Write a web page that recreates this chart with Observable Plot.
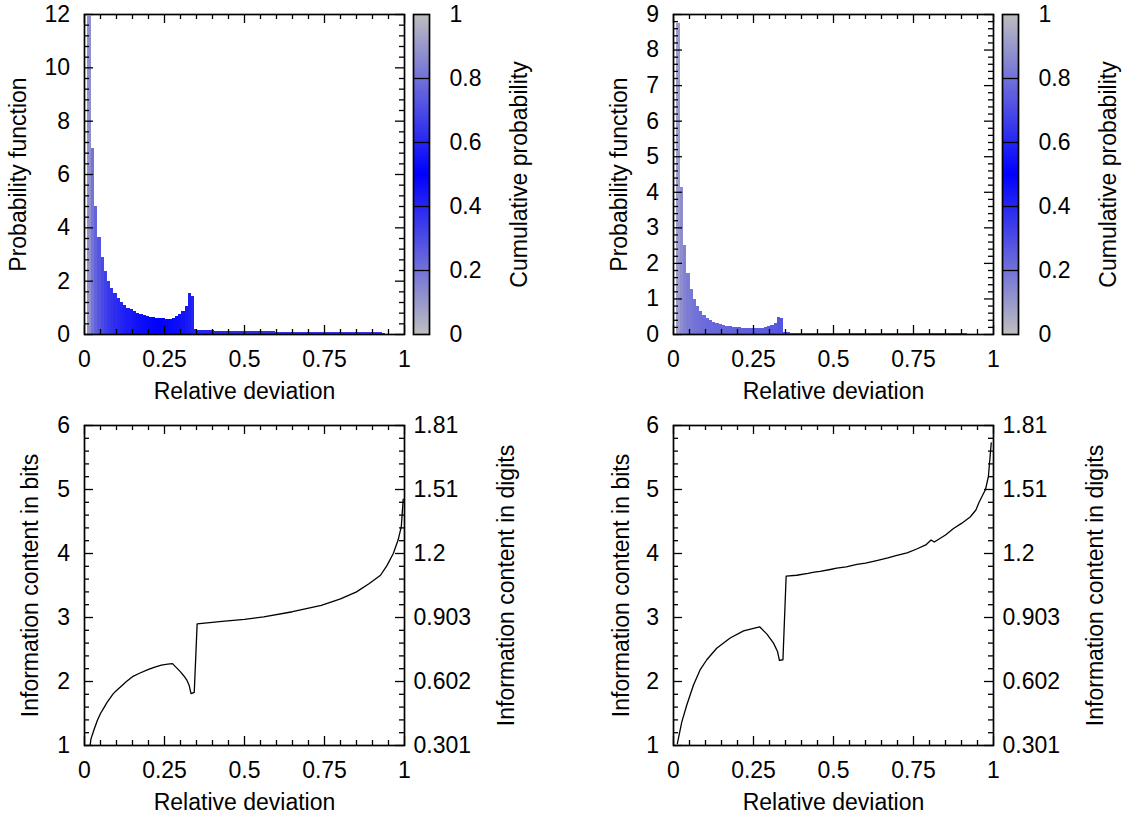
<!DOCTYPE html>
<html>
<head>
<meta charset="utf-8">
<script src="https://cdn.jsdelivr.net/npm/d3@7"></script>
<script src="https://cdn.jsdelivr.net/npm/@observablehq/plot@0.6"></script>
<style>
  html, body { margin: 0; padding: 0; background: #fff; }
  #root { position: relative; width: 1127px; height: 818px; overflow: hidden; font-family: "Liberation Sans", Arial, sans-serif; }
  #root svg { position: absolute; }
</style>
</head>
<body>
<div id="root"></div>
<script>
// ---------------- DATA ----------------
// x axis (relative deviation)
const xMajor = [0, 0.25, 0.5, 0.75, 1];
const xMajorLabels = ["0", "0.25", "0.5", "0.75", "1"];
const xLabel = "Relative deviation";

// histogram bins: the first bin spans [binFirstEdge, binStart], the others have width binWidth
const binFirstEdge = 0.008;
const binStart = 0.0213;
const binWidth = 0.0101;

// top-left histogram: probability function per bin
const histLeftValues = [
  11.94, 6.98, 4.81, 3.63, 2.88, 2.38, 2.0, 1.71, 1.53, 1.35,
  1.21, 1.09, 0.99, 0.93, 0.85, 0.80, 0.75, 0.71, 0.68, 0.65,
  0.63, 0.61, 0.60, 0.59, 0.58, 0.56, 0.60, 0.68, 0.75, 0.86,
  1.04, 1.54, 1.44,
  0.19, 0.16, 0.15, 0.145, 0.14, 0.135, 0.13, 0.13, 0.125,
  0.125, 0.12, 0.12, 0.115, 0.115, 0.11, 0.11, 0.11, 0.105,
  0.105, 0.10, 0.10, 0.10, 0.095, 0.095, 0.095, 0.09, 0.09,
  0.09, 0.09, 0.085, 0.085, 0.085, 0.085, 0.08, 0.08, 0.08,
  0.08, 0.08, 0.075, 0.075, 0.075, 0.075, 0.075, 0.07, 0.07,
  0.07, 0.07, 0.07, 0.07, 0.065, 0.065, 0.065, 0.065, 0.065,
  0.06, 0.06, 0.06, 0.06, 0.055
];

// top-right histogram
const histRightValues = [
  8.74, 4.13, 2.49, 1.715, 1.265, 0.984, 0.778, 0.656, 0.544, 0.459,
  0.394, 0.337, 0.30, 0.272, 0.253, 0.234, 0.216, 0.206, 0.197, 0.187,
  0.178, 0.178, 0.169, 0.169, 0.169, 0.159, 0.178, 0.206, 0.234, 0.253,
  0.309, 0.487, 0.459,
  0.05, 0.045, 0.042, 0.04, 0.038, 0.037, 0.036, 0.035, 0.035,
  0.034, 0.033, 0.032, 0.032, 0.031, 0.031, 0.03, 0.03, 0.03,
  0.029, 0.028, 0.028, 0.028, 0.027, 0.027, 0.026, 0.026, 0.026,
  0.025, 0.025, 0.024, 0.024, 0.024, 0.023, 0.023, 0.023, 0.022,
  0.022, 0.021, 0.021, 0.021, 0.02, 0.02, 0.02, 0.02, 0.019,
  0.019, 0.018, 0.018, 0.018, 0.017, 0.017, 0.017, 0.016, 0.016,
  0.015, 0.015, 0.015, 0.014, 0.014
];

const histLeftYTicks = [0, 2, 4, 6, 8, 10, 12];
const histRightYTicks = [0, 1, 2, 3, 4, 5, 6, 7, 8, 9];
const histYLabel = "Probability function";

// colorbar
const cbTicks = [0, 0.2, 0.4, 0.6, 0.8, 1];
const cbTickLabels = ["0", "0.2", "0.4", "0.6", "0.8", "1"];
const cbLabel = "Cumulative probability";
const paletteColors = ["#bebebe", "#0000ff", "#bebebe"];

// bottom-left information content curve (bits)
const infoLeftX = [0.01, 0.02, 0.03, 0.04, 0.05, 0.06, 0.07, 0.08, 0.09, 0.1,
  0.12, 0.13, 0.15, 0.17, 0.2, 0.22, 0.24, 0.26, 0.275, 0.3,
  0.31, 0.32, 0.327, 0.333, 0.343, 0.352, 0.43, 0.5, 0.56, 0.65,
  0.74, 0.8, 0.85, 0.89, 0.925, 0.945, 0.965, 0.98, 0.99, 0.996];
const infoLeftY = [0.7, 1.1, 1.25, 1.39, 1.5, 1.585, 1.67, 1.74, 1.81, 1.86,
  1.95, 1.995, 2.075, 2.125, 2.19, 2.225, 2.255, 2.27, 2.28, 2.15,
  2.09, 2.02, 1.94, 1.81, 1.83, 2.9, 2.94, 2.97, 3.01, 3.09,
  3.19, 3.29, 3.40, 3.53, 3.66, 3.81, 4.0, 4.21, 4.42, 4.85];

// bottom-right information content curve (bits)
const infoRightX = [0.012, 0.026, 0.042, 0.0625, 0.083, 0.104, 0.135, 0.177, 0.219, 0.269,
  0.292, 0.3125, 0.325, 0.331, 0.342, 0.352, 0.385, 0.42, 0.44, 0.458,
  0.49, 0.51, 0.54, 0.573, 0.6, 0.635, 0.67, 0.698, 0.73, 0.76,
  0.79, 0.805, 0.815, 0.85, 0.875, 0.9, 0.927, 0.945, 0.955, 0.964,
  0.975, 0.984, 0.993];
const infoRightY = [1.03, 1.37, 1.64, 1.945, 2.18, 2.34, 2.52, 2.68, 2.79, 2.855,
  2.74, 2.60, 2.47, 2.33, 2.34, 3.645, 3.66, 3.69, 3.71, 3.72,
  3.75, 3.77, 3.79, 3.83, 3.85, 3.89, 3.93, 3.97, 4.01, 4.07,
  4.14, 4.21, 4.18, 4.29, 4.39, 4.47, 4.57, 4.68, 4.80, 4.89,
  5.0, 5.2, 5.73];

const infoYTicks = [1, 2, 3, 4, 5, 6];
const infoDigitLabels = ["0.301", "0.602", "0.903", "1.2", "1.51", "1.81"];
const infoYLabel = "Information content in bits";
const infoRightLabel = "Information content in digits";

// ---------------- LAYOUT ----------------
const PW = 320, PH = 320;
const FONT = 23;
const FONTFAM = "Liberation Sans, Arial, sans-serif";
const panelW = 560, panelH = 411;
const mL = 84, mT = 14;
const mR = panelW - mL - PW, mB = panelH - mT - PH;
const root = document.getElementById("root");
const baseStyle = {background: "none", fontFamily: FONTFAM, fontSize: FONT + "px", overflow: "visible", color: "black"};

const colorScale = {type: "linear", domain: [0, 0.5, 1], range: paletteColors, interpolate: d3.interpolateRgb};

function minorTicks(lo, hi, step, majors) {
  const out = [];
  for (let v = lo; v <= hi + 1e-9; v += step) {
    const r = Math.round(v * 1000) / 1000;
    if (!majors.some(m => Math.abs(m - r) < 1e-6)) out.push(r);
  }
  return out;
}
const xMinor = minorTicks(0, 1, 0.05, xMajor);

function frameTicks(yMaj, yMin) {
  const L = 9, S = 5, sw = 1.3;
  return [
    Plot.tickX(xMajor, {x: d => d, insetTop: PH - L, strokeWidth: sw}),
    Plot.tickX(xMajor, {x: d => d, insetBottom: PH - L, strokeWidth: sw}),
    Plot.tickX(xMinor, {x: d => d, insetTop: PH - S, strokeWidth: sw}),
    Plot.tickX(xMinor, {x: d => d, insetBottom: PH - S, strokeWidth: sw}),
    Plot.tickY(yMaj, {y: d => d, insetRight: PW - L, strokeWidth: sw}),
    Plot.tickY(yMaj, {y: d => d, insetLeft: PW - L, strokeWidth: sw}),
    Plot.tickY(yMin, {y: d => d, insetRight: PW - S, strokeWidth: sw}),
    Plot.tickY(yMin, {y: d => d, insetLeft: PW - S, strokeWidth: sw})
  ];
}

function xAxisMarks() {
  return [
    Plot.axisX({ticks: xMajor, tickSize: 0, tickPadding: 16, fontSize: FONT, label: null,
      tickFormat: d => xMajorLabels[xMajor.indexOf(d)]}),
    Plot.text([xLabel], {frameAnchor: "bottom", textAnchor: "middle", lineAnchor: "middle", dy: 57, text: d => d, fontSize: FONT})
  ];
}

function sideLabel(label, side, dx) {
  return Plot.text([label], {frameAnchor: side, textAnchor: "middle", lineAnchor: "middle", rotate: -90, dx, text: d => d, fontSize: FONT});
}

function place(svg, left, top) {
  svg.style.left = left + "px";
  svg.style.top = top + "px";
  root.appendChild(svg);
}

function histPanel(values, yTicks, minorStep, yLabelDx, left, top) {
  let cum = 0;
  const bins = values.map((v, i) => {
    cum += v * binWidth;
    const x1 = i === 0 ? binFirstEdge : binStart + (i - 1) * binWidth;
    const x2 = binStart + i * binWidth;
    return {x1, x2, value: v, cum};
  });
  const yMax = yTicks[yTicks.length - 1];
  const svg = Plot.plot({
    width: panelW, height: panelH,
    marginLeft: mL, marginTop: mT, marginRight: mR, marginBottom: mB,
    style: baseStyle,
    x: {domain: [0, 1], label: null},
    y: {domain: [0, yMax], label: null},
    color: colorScale,
    marks: [
      Plot.rectY(bins, {x1: "x1", x2: "x2", y1: 0, y2: "value", fill: "cum", inset: 0, shapeRendering: "crispEdges", clip: true}),
      ...frameTicks(yTicks, minorTicks(0, yMax, minorStep, yTicks)),
      Plot.frame({stroke: "black", strokeWidth: 1.7}),
      Plot.axisY({ticks: yTicks, tickSize: 0, tickPadding: 14.5, fontSize: FONT, label: null,
        tickFormat: d => String(d)}),
      ...xAxisMarks(),
      sideLabel(histYLabel, "left", yLabelDx)
    ]
  });
  place(svg, left, top);

  // vertical colorbar
  const cbStep = 0.0025;
  const steps = d3.range(0, 1, cbStep);
  const cb = Plot.plot({
    width: 140, height: panelH,
    marginLeft: 0, marginRight: 124, marginTop: mT, marginBottom: mB,
    style: baseStyle,
    x: {domain: [0, 1], axis: null},
    y: {domain: [0, 1], label: null},
    color: colorScale,
    marks: [
      Plot.rect(steps, {x1: 0, x2: 1, y1: d => d, y2: d => d + cbStep, fill: d => d + cbStep / 2, shapeRendering: "crispEdges"}),
      Plot.ruleY([0.2, 0.4, 0.6, 0.8], {stroke: "black", strokeWidth: 1.3}),
      Plot.frame({stroke: "black", strokeWidth: 1.7}),
      Plot.axisY({anchor: "right", ticks: cbTicks, tickSize: 0, tickPadding: 20, fontSize: FONT, label: null,
        tickFormat: d => cbTickLabels[cbTicks.indexOf(d)]}),
      sideLabel(cbLabel, "right", 90)
    ]
  });
  place(cb, left + 413, top);
}

function infoPanel(xs, ys, yLabelDx, left, top) {
  const pts = xs.map((x, i) => ({x, y: ys[i]}));
  const svg = Plot.plot({
    width: panelW, height: panelH,
    marginLeft: mL, marginTop: mT, marginRight: mR, marginBottom: mB,
    style: baseStyle,
    x: {domain: [0, 1], label: null},
    y: {domain: [1, 6], label: null},
    marks: [
      Plot.line(pts, {x: "x", y: "y", stroke: "black", strokeWidth: 1.3, clip: true}),
      ...frameTicks(infoYTicks, minorTicks(1, 6, 0.2, infoYTicks)),
      Plot.frame({stroke: "black", strokeWidth: 1.7}),
      Plot.axisY({ticks: infoYTicks, tickSize: 0, tickPadding: 14.5, fontSize: FONT, label: null,
        tickFormat: d => String(d)}),
      Plot.axisY({anchor: "right", ticks: infoYTicks, tickSize: 0, tickPadding: 9, fontSize: FONT, label: null,
        tickFormat: d => infoDigitLabels[infoYTicks.indexOf(d)]}),
      ...xAxisMarks(),
      sideLabel(infoYLabel, "left", yLabelDx),
      sideLabel(infoRightLabel, "right", 102.5)
    ]
  });
  place(svg, left, top);
}

histPanel(histLeftValues, histLeftYTicks, 0.4, -66, 0, 0);
histPanel(histRightValues, histRightYTicks, 0.2, -53.5, 589, 0);
infoPanel(infoLeftX, infoLeftY, -53.5, 0, 411);
infoPanel(infoRightX, infoRightY, -51.5, 589, 411);
</script>
</body>
</html>
